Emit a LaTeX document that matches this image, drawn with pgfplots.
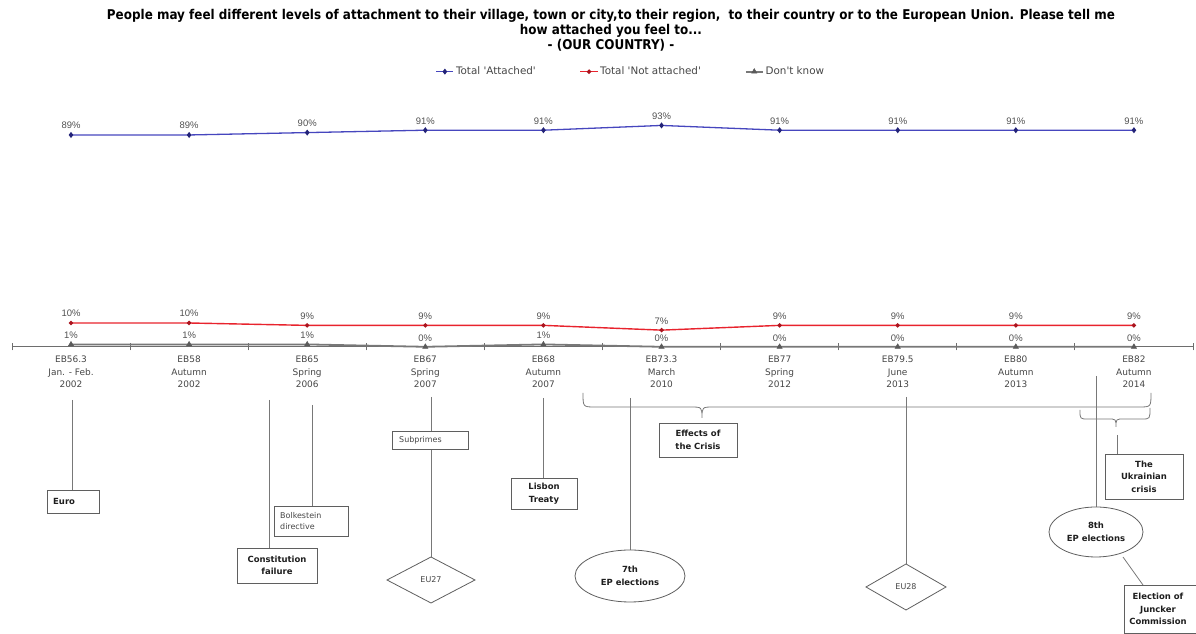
\documentclass[border=0pt]{standalone}
\usepackage{pgfplots}
\pgfplotsset{compat=1.18}
\usepackage{fontspec}
\setmainfont{DejaVu Sans}
\newfontfamily\titlefont[FakeStretch=0.89]{DejaVu Sans}
\newfontfamily\labfont{Liberation Sans}
\definecolor{cblue}{RGB}{70,70,190}
\definecolor{cbluemk}{RGB}{35,35,120}
\definecolor{cred}{RGB}{232,35,45}
\definecolor{credmk}{RGB}{170,20,30}
\definecolor{cgray}{RGB}{120,120,120}
\definecolor{cgraymk}{RGB}{90,90,90}
\definecolor{axgray}{RGB}{110,110,110}
\definecolor{txtgray}{RGB}{70,70,70}
\definecolor{lblgray}{RGB}{80,80,80}
\definecolor{anngray}{RGB}{120,120,120}
\definecolor{boxgray}{RGB}{95,95,95}
\definecolor{dark}{RGB}{30,30,30}

\pgfplotstableread{
x attached notattached dontknow
0 89 10 1
1 89 10 1
2 90 9 1
3 91 9 0
4 91 9 1
5 93 7 0
6 91 9 0
7 91 9 0
8 91 9 0
9 91 9 0
}\datatable

\begin{document}
\begin{tikzpicture}
\begin{axis}[
  at={(11.95bp,0bp)}, anchor=south west,
  scale only axis, width=1181bp, height=634bp,
  xmin=-0.5, xmax=9.5, ymin=-120.67, ymax=145.71,
  axis x line*=middle, axis y line=none,
  x axis line style={color=axgray, line width=0.9bp},
  xtick={0,...,9},
  xticklabels={{EB56.3\\Jan. - Feb.\\2002},{EB58\\Autumn\\2002},{EB65\\Spring\\2006},{EB67\\Spring\\2007},{EB68\\Autumn\\2007},{EB73.3\\March\\2010},{EB77\\Spring\\2012},{EB79.5\\June\\2013},{EB80\\Autumn\\2013},{EB82\\Autumn\\2014}},
  xticklabel style={align=center, font=\fontsize{9}{12.5}\selectfont, text=txtgray, yshift=-6bp},
  major tick length=0pt,
  minor xtick={-0.5,0.5,...,9.5},
  minor tick length=7bp,
  tick align=center,
  minor x tick style={draw=axgray, line width=0.8bp},
  clip=false,
  /pgf/number format/assume math mode=true,
  nodes near coords={\pgfmathprintnumber{\pgfplotspointmeta}\%},
  every node near coord/.append style={font=\labfont\fontsize{9.5}{11}\selectfont, text=lblgray, anchor=south, yshift=2bp},
  legend columns=-1,
  legend style={at={(0.5241,0.8870)}, anchor=center, draw=none, fill=none,
    font=\fontsize{10.4}{12}\selectfont, text=txtgray,
    /tikz/every even column/.append style={column sep=42bp},
    inner sep=0pt},
  legend cell align=left,
]
\addplot[cblue, line width=1.3bp, mark=diamond*, mark size=2bp, mark options={fill=cbluemk, draw=cbluemk}] table[x=x, y=attached]{\datatable};
\addlegendentry{Total \textquotesingle Attached\textquotesingle}
\addplot[cred, line width=1.4bp, mark=*, mark size=1.4bp, mark options={fill=credmk, draw=credmk}] table[x=x, y=notattached]{\datatable};
\addlegendentry{Total \textquotesingle Not attached\textquotesingle}
\addplot[cgray, line width=1.8bp, mark=triangle*, mark size=3bp, mark options={fill=cgraymk, draw=cgraymk, line width=0.5bp}] table[x=x, y=dontknow]{\datatable};
\addlegendentry{Don\textquotesingle t know}
\end{axis}

\begin{scope}[x=1bp, y=-1bp, shift={(0bp,634bp)},
  ln/.style={draw=anngray, line width=0.8bp},
  bx/.style={draw=boxgray, fill=white, line width=0.8bp},
  bt/.style={font=\fontsize{8.5}{12.5}\selectfont\bfseries, text=dark, align=center, inner sep=0pt},
  nt/.style={font=\fontsize{8}{11}\selectfont, text=txtgray, align=left, inner sep=0pt}]
% title
\node[font=\titlefont\bfseries\fontsize{13.5}{15}\selectfont, align=center, text=black] at (611,30)
 {People may feel different levels of attachment to their village, town or city,to their region,\ \ to their country or to the European Union. Please tell me\\how attached you feel to...\\- (OUR COUNTRY) -};
% Euro
\draw[ln] (72,400) -- (72,490);
\draw[bx] (47,490) rectangle (99,513);
\node[bt, anchor=west] at (53,501.5) {Euro};
% Constitution failure
\draw[ln] (269,400) -- (269,548);
\draw[bx] (237,548) rectangle (317,583);
\node[bt] at (277,565.5) {Constitution\\failure};
% Bolkestein
\draw[ln] (312,405) -- (312,506);
\draw[bx] (274,506) rectangle (348,536);
\node[nt, anchor=west] at (280,521) {Bolkestein\\directive};
% Subprimes / EU27
\draw[ln] (431,397) -- (431,557);
\draw[bx] (392,431) rectangle (468,449);
\node[nt, anchor=west] at (399,440) {Subprimes};
\draw[bx] (431,557) -- (475,580) -- (431,603) -- (387,580) -- cycle;
\node[nt] at (431,580) {EU27};
% Lisbon
\draw[ln] (543,398) -- (543,478);
\draw[bx] (511,478) rectangle (577,509);
\node[bt] at (544,493.5) {Lisbon\\Treaty};
% Effects of the crisis brace
\draw[ln] (583,393) .. controls (583,407) .. (595,407) -- (690,407) .. controls (702,407) .. (702,418) .. controls (702,407) .. (714,407) -- (1139,407) .. controls (1151,407) .. (1151,393);
\draw[bx] (659,423) rectangle (737,457);
\node[bt] at (698,440) {Effects of\\the Crisis};
% 7th EP
\draw[ln] (630,398) -- (630,550);
\draw[bx] (630,576) ellipse [x radius=55bp, y radius=26bp];
\node[bt] at (630,576) {7th\\EP elections};
% EU28
\draw[ln] (906,397) -- (906,564);
\draw[bx] (906,564) -- (946,587) -- (906,610) -- (866,587) -- cycle;
\node[nt] at (906,587) {EU28};
% Ukrainian brace
\draw[ln] (1080,410) .. controls (1080,419) .. (1088,419) -- (1108,419) .. controls (1116,419) .. (1116,427) .. controls (1116,419) .. (1124,419) -- (1142,419) .. controls (1150,419) .. (1150,408);
\draw[ln] (1117,435) -- (1117,454);
\draw[bx] (1105,454) rectangle (1183,499);
\node[bt] at (1144,476.5) {The\\Ukrainian\\crisis};
% 8th EP
\draw[ln] (1096,376) -- (1096,507);
\draw[ln] (1123,557) -- (1143,585);
\draw[bx] (1096,532) ellipse [x radius=47bp, y radius=25bp];
\node[bt] at (1096,532) {8th\\EP elections};
% Juncker
\draw[bx] (1124,585) rectangle (1200,633);
\node[bt] at (1158,609) {Election of\\Juncker\\Commission};
\end{scope}
\pgfresetboundingbox
\path (0bp,0bp) rectangle (1196bp,634bp);
\end{tikzpicture}
\end{document}
